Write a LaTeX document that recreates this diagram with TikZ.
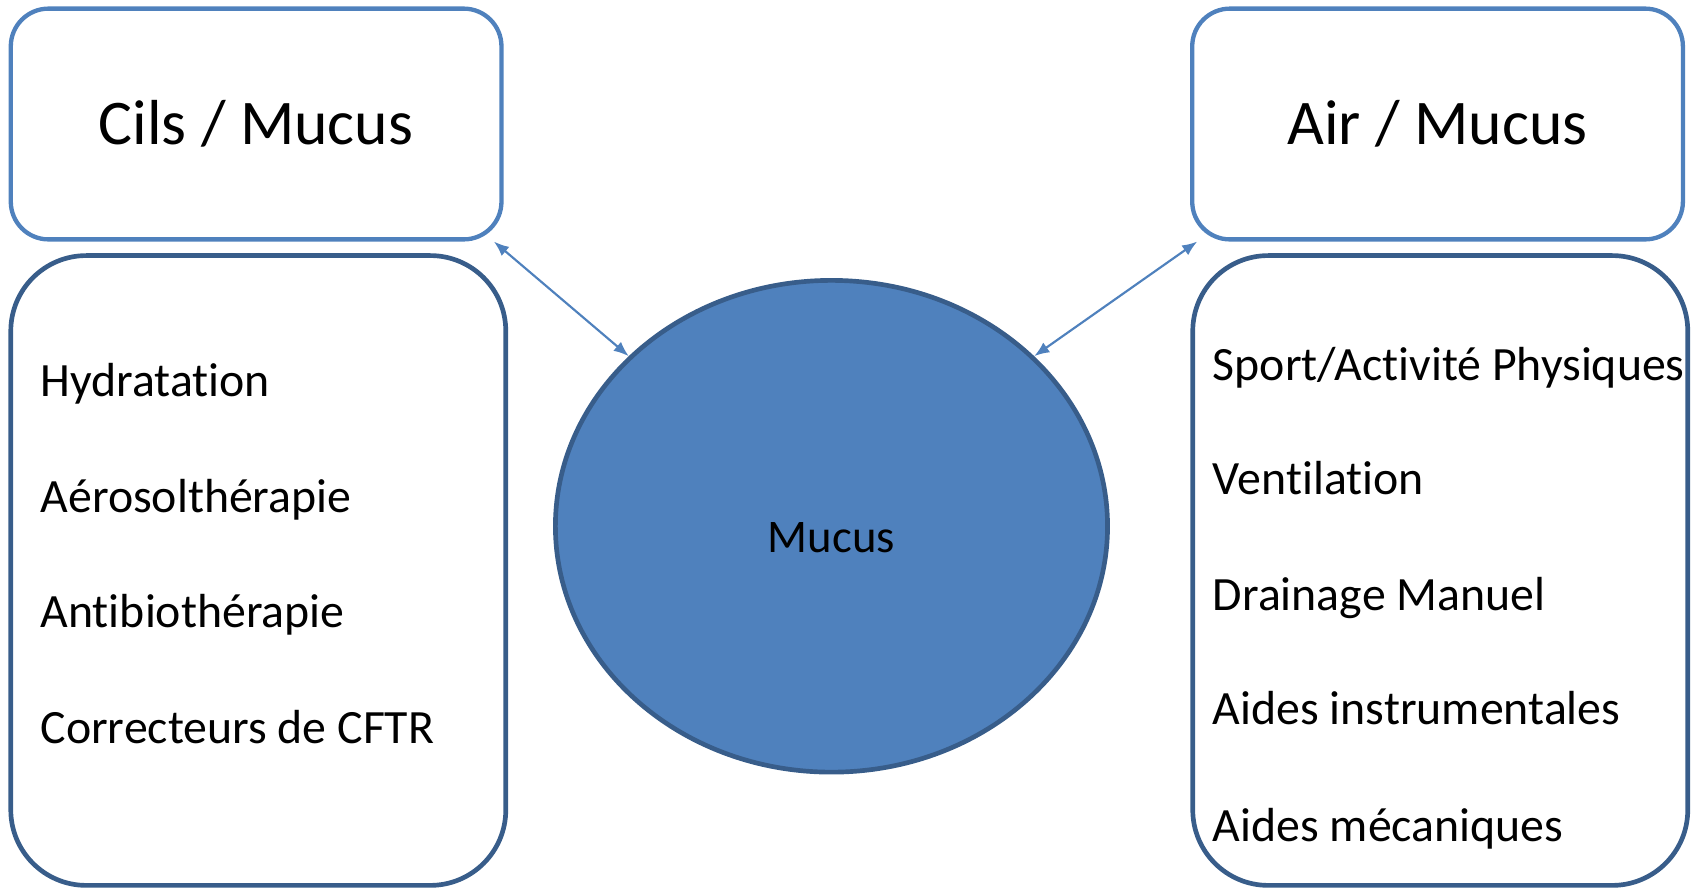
\documentclass[tikz,border=0pt]{standalone}
\usepackage{fontspec}
\setmainfont[Ligatures=NoCommon]{Carlito}
\usetikzlibrary{arrows.meta,shapes.geometric}
\definecolor{boxblue}{HTML}{4F81BD}
\definecolor{edgeblue}{HTML}{385D8A}

\begin{document}
\begin{tikzpicture}[x=0.300000pt,y=-0.300000pt,
  titlebox/.style={draw=boxblue,line width=1.2pt,rounded corners=10.5pt,minimum width=136.5pt,minimum height=64.2pt,inner sep=0pt,font=\fontsize{17.7}{21}\selectfont},
  listbox/.style={draw=edgeblue,line width=1.3pt,rounded corners=21pt,minimum width=137.7pt,minimum height=175.2pt,inner sep=0pt},
  item/.style={anchor=base west,inner sep=0pt,font=\fontsize{13.3}{15}\selectfont},
  link/.style={draw=boxblue,line width=0.6pt,{Latex[length=4.2pt,width=3.3pt]}-{Latex[length=4.2pt,width=3.3pt]}}]
\useasboundingbox (0.000000,0.000000) rectangle (1568.000000,829.000000);
% Drawing title boxes
\node[titlebox] (cils) at (237.500000,115.000000) {Cils / Mucus};
\node[titlebox] (air) at (1333.000000,115.000000) {Air / Mucus};
% Drawing list boxes
\node[listbox] (leftlist) at (239.500000,529.000000) {};
\node[listbox] (rightlist) at (1335.500000,529.000000) {};
% Left items
\node[item] (hydra) at (37.000000,368.000000) {Hydratation};
\node[item] (aero) at (37.000000,475.000000) {Aérosolthérapie};
\node[item] (antibio) at (37.000000,582.000000) {Antibiothérapie};
\node[item] (cftr) at (37.000000,689.000000) {Correcteurs de CFTR};
% Right items
\node[item] (sport) at (1124.000000,353.000000) {Sport/Activité Physiques};
\node[item] (venti) at (1124.000000,459.000000) {Ventilation};
\node[item] (drain) at (1124.000000,566.000000) {Drainage Manuel};
\node[item] (instru) at (1124.000000,672.000000) {Aides instrumentales};
\node[item] (meca) at (1124.000000,780.000000) {Aides mécaniques};
% Drawing the mucus ellipse
\node[ellipse,draw=edgeblue,fill=boxblue,line width=1.3pt,minimum width=153.6pt,minimum height=136.8pt,inner sep=0pt] (mucus) at (771.000000,488.000000) {};
\node[item,anchor=base,font=\fontsize{13}{15}\selectfont] (mucuslabel) at (771.000000,512.000000) {Mucus};
% Done with shapes; drawing links
\draw[link] ([xshift=-2.7pt]cils.south east) -- (mucus.140);
\draw[link] ([xshift=2pt]air.south west) -- (mucus.40);
\end{tikzpicture}
\end{document}
